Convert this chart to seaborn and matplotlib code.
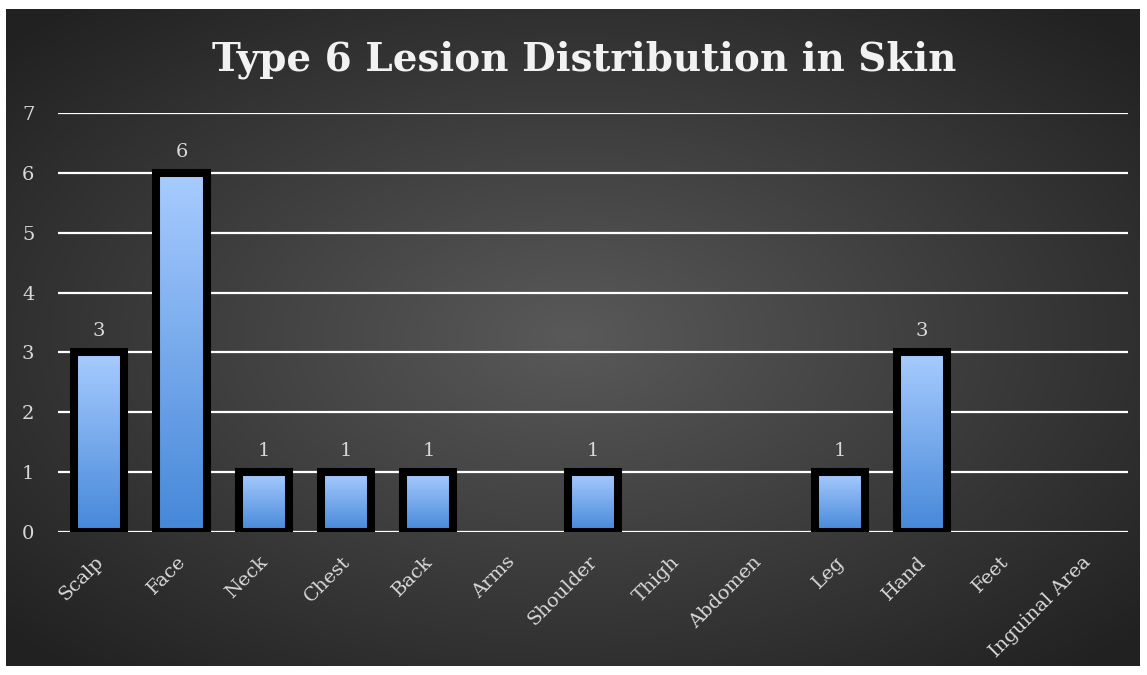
import numpy as np
import pandas as pd
import matplotlib
matplotlib.use("Agg")
import matplotlib.pyplot as plt
import matplotlib.transforms as mtransforms
import seaborn as sns

sites = ["Scalp", "Face", "Neck", "Chest", "Back", "Arms", "Shoulder",
         "Thigh", "Abdomen", "Leg", "Hand", "Feet", "Inguinal Area"]
counts = [3, 6, 1, 1, 1, 0, 1, 0, 0, 1, 3, 0, 0]
y_ticks = [0, 1, 2, 3, 4, 5, 6, 7]
title = "Type 6 Lesion Distribution in Skin"

df = pd.DataFrame({"site": sites, "count": counts})

sns.set_theme(style="white")
plt.rcParams["font.family"] = ["DejaVu Serif"]

W, H = 1147, 675
fig = plt.figure(figsize=(W / 100, H / 100), dpi=100)
fig.patch.set_facecolor("white")

# dark radial-gradient panel behind the chart
bg = fig.add_axes([6 / W, 9 / H, 1134 / W, 657 / H])
bg.set_axis_off()
gx, gy = np.meshgrid(np.linspace(-1, 1, 600), np.linspace(-1, 1, 400))
r = np.clip(np.sqrt(gx ** 2 + gy ** 2) / 1.35, 0, 1)
shade = 0.35 - 0.22 * r
bg.imshow(np.dstack([shade, shade, shade]), aspect="auto",
          extent=[0, 1, 0, 1], interpolation="bilinear")
bg.set_xlim(0, 1)
bg.set_ylim(0, 1)

ax = fig.add_axes([58 / W, (H - 532) / H, 1070 / W, (532 - 113) / H])
ax.patch.set_alpha(0)

EDGE = 5.8
sns.barplot(data=df, x="site", y="count", ax=ax, width=0.61,
            color="#6fa3ee", edgecolor="black", linewidth=0, zorder=3)

ax.set_ylim(0, 7)
ax.set_yticks(y_ticks)
ax.yaxis.grid(True, color="white", linewidth=1.6, zorder=1)
ax.set_axisbelow(True)
for s in ax.spines.values():
    s.set_visible(False)
ax.axhline(0, color="white", linewidth=2, zorder=2)

# gradient fill and black frame for each non-empty bar
grad = np.linspace(0, 1, 256).reshape(-1, 1)
top = np.array([0.66, 0.80, 1.0])
bot = np.array([0.27, 0.53, 0.85])
img = top * (1 - grad[..., None]) + bot * grad[..., None]
for p in ax.patches:
    h = p.get_height()
    if h <= 0:
        continue
    x0, w = p.get_x(), p.get_width()
    im = ax.imshow(img, aspect="auto", extent=[x0, x0 + w, 0, h],
                   zorder=3.5, interpolation="bilinear")
    im.set_clip_path(p)
    ax.add_patch(plt.Rectangle((x0, 0), w, h, fill=False,
                               edgecolor="black", linewidth=EDGE,
                               joinstyle="miter", zorder=4))
ax.set_xlim(-0.5, len(sites) - 0.5)
ax.set_ylim(0, 7)

for i, v in enumerate(counts):
    if v > 0:
        ax.text(i, v + 0.2, str(v), ha="center", va="bottom",
                color="#d9d9d9", fontsize=14)

ax.set_xlabel("")
ax.set_ylabel("")
ax.tick_params(axis="y", colors="#d9d9d9", labelsize=14, length=0, pad=17)
ax.tick_params(axis="x", colors="#d9d9d9", labelsize=14, length=0, pad=15)
shift = mtransforms.ScaledTranslation(-5 / 100, 0, fig.dpi_scale_trans)
for lbl in ax.get_xticklabels():
    lbl.set_rotation(45)
    lbl.set_ha("right")
    lbl.set_rotation_mode("anchor")
    lbl.set_transform(lbl.get_transform() + shift)

fig.text(584 / W, (H - 60) / H, title, ha="center", va="center",
         color="#f2f2f2", fontsize=28, fontweight="bold")

fig.savefig("out.png", dpi=100, facecolor="white")
